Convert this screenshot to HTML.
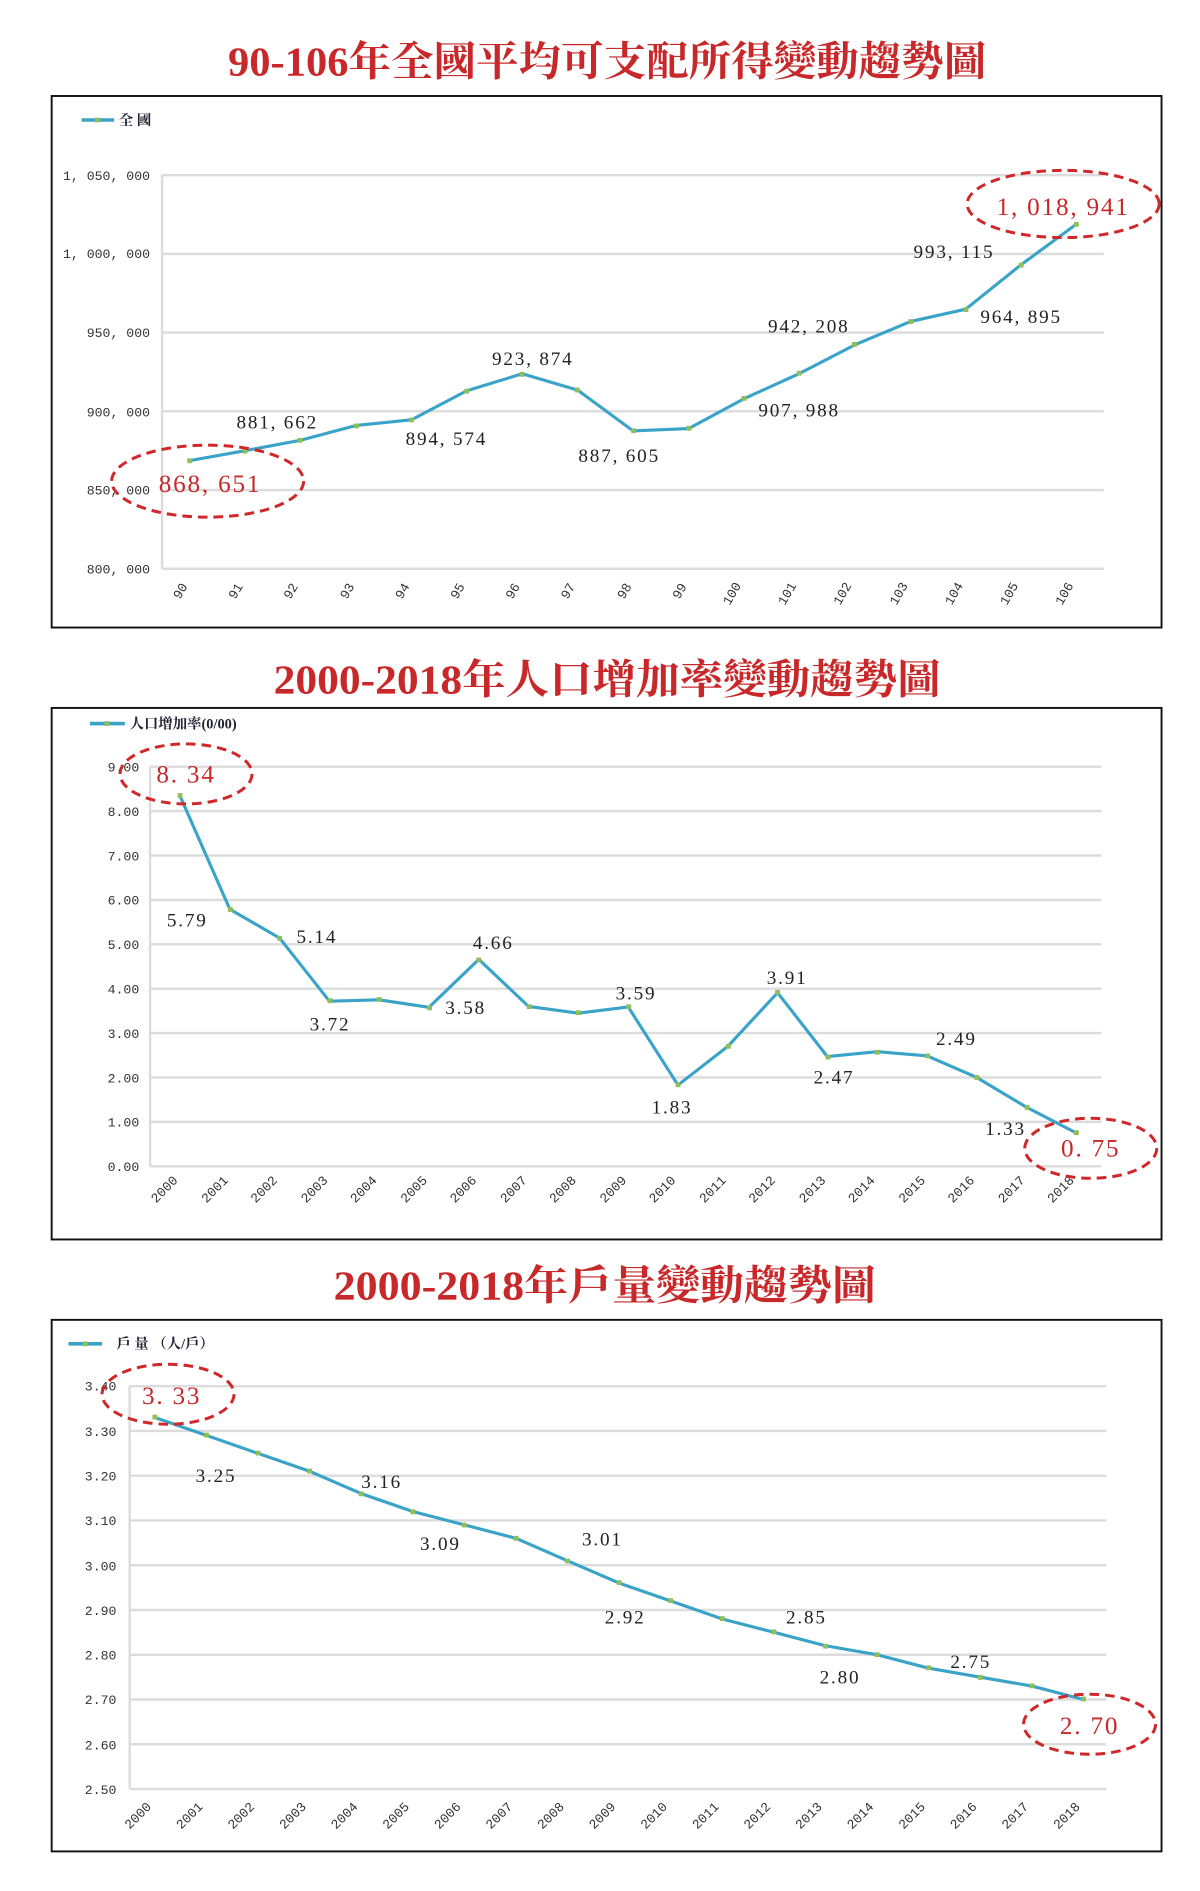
<!DOCTYPE html>
<html><head><meta charset="utf-8"><style>
html,body{margin:0;padding:0;background:#fff}
svg{display:block}
.t{font-family:"Liberation Serif","Noto Serif CJK TC",serif;font-weight:bold;fill:#c8282a;font-size:34px}
.ax{font-family:"Liberation Mono","Noto Sans CJK TC",monospace;font-size:11px;fill:#333}
.lb{font-family:"Liberation Serif",serif;font-size:16px;fill:#222;letter-spacing:1.5px}
.rd{font-family:"Liberation Serif",serif;font-size:21px;fill:#c8282a;letter-spacing:1.5px}
.lg{font-family:"Liberation Serif","Noto Serif CJK TC",serif;font-size:12px;fill:#223;font-weight:bold}
.g{stroke:#dcdcdc;stroke-width:2}
.ln{fill:none;stroke:#3aa3c8;stroke-width:2.6;stroke-linejoin:round}
.el{fill:none;stroke:#d0282a;stroke-width:2.5;stroke-dasharray:8 5}
.box{fill:none;stroke:#111;stroke-width:1.6}
</style></head><body>
<svg width="1200" height="1891" viewBox="0 0 1000 1576" xmlns="http://www.w3.org/2000/svg">
<!-- Chart 1 -->
<text class="t" x="190" y="63" textLength="632" lengthAdjust="spacingAndGlyphs">90-106年全國平均可支配所得變動趨勢圖</text>
<rect class="box" x="43" y="80" width="925" height="443"/>
<line x1="68" y1="100" x2="95" y2="100" stroke="#3aa3c8" stroke-width="3"/><rect x="79" y="98" width="4" height="4" fill="#8fbf5a"/>
<text class="lg" x="99" y="104">全 國</text>
<g class="g"><line x1="135" y1="146" x2="920" y2="146"/><line x1="135" y1="211.6" x2="920" y2="211.6"/><line x1="135" y1="277.2" x2="920" y2="277.2"/><line x1="135" y1="342.8" x2="920" y2="342.8"/><line x1="135" y1="408.4" x2="920" y2="408.4"/><line x1="135" y1="474" x2="920" y2="474"/><line x1="135" y1="146" x2="135" y2="474"/></g>
<g class="ax" text-anchor="end"><text x="125" y="150">1, 050, 000</text><text x="125" y="215">1, 000, 000</text><text x="125" y="281">950, 000</text><text x="125" y="347">900, 000</text><text x="125" y="412">850, 000</text><text x="125" y="478">800, 000</text></g>
<polyline class="ln" points="158,383.9 204.2,375.6 250.4,366.9 296.6,354.6 342.8,349.9 389,325.7 435.2,311.5 481.4,325.1 527.6,359.1 573.8,357.2 620,332.3 666.2,311.3 712.4,287.4 758.6,268 804.8,257.7 851,220.6 897.2,186.7"/>
<g fill="#8fbf5a"><rect x="156" y="382" width="4" height="4"/><rect x="202" y="374" width="4" height="4"/><rect x="248" y="365" width="4" height="4"/><rect x="295" y="353" width="4" height="4"/><rect x="341" y="348" width="4" height="4"/><rect x="387" y="324" width="4" height="4"/><rect x="433" y="310" width="4" height="4"/><rect x="479" y="323" width="4" height="4"/><rect x="526" y="357" width="4" height="4"/><rect x="572" y="355" width="4" height="4"/><rect x="618" y="330" width="4" height="4"/><rect x="664" y="309" width="4" height="4"/><rect x="710" y="285" width="4" height="4"/><rect x="757" y="266" width="4" height="4"/><rect x="803" y="256" width="4" height="4"/><rect x="849" y="219" width="4" height="4"/><rect x="895" y="185" width="4" height="4"/></g>
<g class="ax" font-size="12"><text transform="translate(150,500) rotate(-60)">90</text><text transform="translate(196,500) rotate(-60)">91</text><text transform="translate(242,500) rotate(-60)">92</text><text transform="translate(289,500) rotate(-60)">93</text><text transform="translate(335,500) rotate(-60)">94</text><text transform="translate(381,500) rotate(-60)">95</text><text transform="translate(427,500) rotate(-60)">96</text><text transform="translate(473,500) rotate(-60)">97</text><text transform="translate(520,500) rotate(-60)">98</text><text transform="translate(566,500) rotate(-60)">99</text><text transform="translate(608,505) rotate(-60)">100</text><text transform="translate(654,505) rotate(-60)">101</text><text transform="translate(700,505) rotate(-60)">102</text><text transform="translate(747,505) rotate(-60)">103</text><text transform="translate(793,505) rotate(-60)">104</text><text transform="translate(839,505) rotate(-60)">105</text><text transform="translate(885,505) rotate(-60)">106</text></g>
<g class="lb" text-anchor="middle"><text x="231" y="357">881, 662</text><text x="372" y="371">894, 574</text><text x="444" y="304">923, 874</text><text x="516" y="385">887, 605</text><text x="666" y="347">907, 988</text><text x="674" y="277">942, 208</text><text x="795" y="215">993, 115</text><text x="851" y="269">964, 895</text></g>
<ellipse class="el" cx="173" cy="401" rx="80" ry="30"/><text class="rd" x="175" y="410" text-anchor="middle">868, 651</text>
<ellipse class="el" cx="886" cy="170" rx="80" ry="28"/><text class="rd" x="886" y="179" text-anchor="middle">1, 018, 941</text>

<!-- Chart 2 -->
<text class="t" x="228" y="578" textLength="556" lengthAdjust="spacingAndGlyphs">2000-2018年人口增加率變動趨勢圖</text>
<rect class="box" x="43" y="590" width="925" height="443"/>
<line x1="75" y1="603" x2="104" y2="603" stroke="#3aa3c8" stroke-width="3"/><rect x="87" y="601" width="4" height="4" fill="#8fbf5a"/>
<text class="lg" x="108" y="607">人口增加率(0/00)</text>
<g class="g"><line x1="125" y1="639" x2="918" y2="639"/><line x1="125" y1="676" x2="918" y2="676"/><line x1="125" y1="713" x2="918" y2="713"/><line x1="125" y1="750" x2="918" y2="750"/><line x1="125" y1="787" x2="918" y2="787"/><line x1="125" y1="824" x2="918" y2="824"/><line x1="125" y1="861" x2="918" y2="861"/><line x1="125" y1="898" x2="918" y2="898"/><line x1="125" y1="935" x2="918" y2="935"/><line x1="125" y1="972" x2="918" y2="972"/><line x1="125" y1="639" x2="125" y2="972"/></g>
<g class="ax" text-anchor="end"><text x="116" y="643">9.00</text><text x="116" y="680">8.00</text><text x="116" y="717">7.00</text><text x="116" y="754">6.00</text><text x="116" y="791">5.00</text><text x="116" y="828">4.00</text><text x="116" y="865">3.00</text><text x="116" y="902">2.00</text><text x="116" y="939">1.00</text><text x="116" y="976">0.00</text></g>
<polyline class="ln" points="150,663.4 191.5,757.8 233,781.8 274.5,834.4 316,833.3 357.5,839.5 399,799.6 440.5,838.8 482,844.4 523.5,839.2 565,904.3 606.5,872.1 648,827.3 689.5,880.6 731,876.5 772.5,879.9 814,898 855.5,922.8 897,944.3"/>
<g fill="#8fbf5a"><rect x="148" y="661" width="4" height="4"/><rect x="190" y="756" width="4" height="4"/><rect x="231" y="780" width="4" height="4"/><rect x="273" y="832" width="4" height="4"/><rect x="314" y="831" width="4" height="4"/><rect x="356" y="838" width="4" height="4"/><rect x="397" y="798" width="4" height="4"/><rect x="439" y="837" width="4" height="4"/><rect x="480" y="842" width="4" height="4"/><rect x="522" y="837" width="4" height="4"/><rect x="563" y="902" width="4" height="4"/><rect x="605" y="870" width="4" height="4"/><rect x="646" y="825" width="4" height="4"/><rect x="688" y="879" width="4" height="4"/><rect x="729" y="875" width="4" height="4"/><rect x="771" y="878" width="4" height="4"/><rect x="812" y="896" width="4" height="4"/><rect x="854" y="921" width="4" height="4"/><rect x="895" y="942" width="4" height="4"/></g>
<g class="ax" font-size="10"><text transform="translate(130,1003) rotate(-45)">2000</text><text transform="translate(172,1003) rotate(-45)">2001</text><text transform="translate(213,1003) rotate(-45)">2002</text><text transform="translate(255,1003) rotate(-45)">2003</text><text transform="translate(296,1003) rotate(-45)">2004</text><text transform="translate(338,1003) rotate(-45)">2005</text><text transform="translate(379,1003) rotate(-45)">2006</text><text transform="translate(421,1003) rotate(-45)">2007</text><text transform="translate(462,1003) rotate(-45)">2008</text><text transform="translate(504,1003) rotate(-45)">2009</text><text transform="translate(545,1003) rotate(-45)">2010</text><text transform="translate(587,1003) rotate(-45)">2011</text><text transform="translate(628,1003) rotate(-45)">2012</text><text transform="translate(670,1003) rotate(-45)">2013</text><text transform="translate(711,1003) rotate(-45)">2014</text><text transform="translate(753,1003) rotate(-45)">2015</text><text transform="translate(794,1003) rotate(-45)">2016</text><text transform="translate(836,1003) rotate(-45)">2017</text><text transform="translate(877,1003) rotate(-45)">2018</text></g>
<g class="lb" text-anchor="middle"><text x="156" y="772">5.79</text><text x="264" y="786">5.14</text><text x="275" y="859">3.72</text><text x="388" y="845">3.58</text><text x="411" y="791">4.66</text><text x="530" y="833">3.59</text><text x="560" y="928">1.83</text><text x="656" y="820">3.91</text><text x="695" y="903">2.47</text><text x="797" y="871">2.49</text><text x="838" y="946">1.33</text></g>
<ellipse class="el" cx="155" cy="645" rx="55" ry="25" fill="#fff"/><text class="rd" x="155" y="652" text-anchor="middle">8. 34</text>
<ellipse class="el" cx="909" cy="957" rx="55" ry="25"/><text class="rd" x="909" y="964" text-anchor="middle">0. 75</text>

<!-- Chart 3 -->
<text class="t" x="278" y="1083" textLength="452" lengthAdjust="spacingAndGlyphs">2000-2018年戶量變動趨勢圖</text>
<rect class="box" x="43" y="1100" width="925" height="443"/>
<line x1="57" y1="1120" x2="85" y2="1120" stroke="#3aa3c8" stroke-width="3"/><rect x="69" y="1118" width="4" height="4" fill="#8fbf5a"/>
<text class="lg" x="97" y="1124">戶 量 （人/戶）</text>
<g class="g"><line x1="108" y1="1155.3" x2="922" y2="1155.3"/><line x1="108" y1="1192.6" x2="922" y2="1192.6"/><line x1="108" y1="1229.9" x2="922" y2="1229.9"/><line x1="108" y1="1267.2" x2="922" y2="1267.2"/><line x1="108" y1="1304.5" x2="922" y2="1304.5"/><line x1="108" y1="1341.8" x2="922" y2="1341.8"/><line x1="108" y1="1379.1" x2="922" y2="1379.1"/><line x1="108" y1="1416.4" x2="922" y2="1416.4"/><line x1="108" y1="1453.7" x2="922" y2="1453.7"/><line x1="108" y1="1491" x2="922" y2="1491"/><line x1="108" y1="1155" x2="108" y2="1491"/></g>
<g class="ax" text-anchor="end"><text x="97" y="1159">3.40</text><text x="97" y="1197">3.30</text><text x="97" y="1234">3.20</text><text x="97" y="1271">3.10</text><text x="97" y="1309">3.00</text><text x="97" y="1346">2.90</text><text x="97" y="1383">2.80</text><text x="97" y="1420">2.70</text><text x="97" y="1458">2.60</text><text x="97" y="1495">2.50</text></g>
<polyline class="ln" points="129,1181.4 172,1196.3 215,1211.3 258,1226.2 301,1244.8 344,1259.7 387,1270.9 430,1282.1 473,1300.8 516,1319.4 559,1334.3 602,1349.3 645,1360.4 688,1371.6 731,1379.1 774,1390.3 817,1397.8 860,1405.2 903,1416.4"/>
<g fill="#8fbf5a"><rect x="127" y="1179" width="4" height="4"/><rect x="170" y="1194" width="4" height="4"/><rect x="213" y="1209" width="4" height="4"/><rect x="256" y="1224" width="4" height="4"/><rect x="299" y="1243" width="4" height="4"/><rect x="342" y="1258" width="4" height="4"/><rect x="385" y="1269" width="4" height="4"/><rect x="428" y="1280" width="4" height="4"/><rect x="471" y="1299" width="4" height="4"/><rect x="514" y="1317" width="4" height="4"/><rect x="557" y="1332" width="4" height="4"/><rect x="600" y="1347" width="4" height="4"/><rect x="643" y="1358" width="4" height="4"/><rect x="686" y="1370" width="4" height="4"/><rect x="729" y="1377" width="4" height="4"/><rect x="772" y="1388" width="4" height="4"/><rect x="815" y="1396" width="4" height="4"/><rect x="858" y="1403" width="4" height="4"/><rect x="901" y="1414" width="4" height="4"/></g>
<g class="ax" font-size="10"><text transform="translate(108,1525) rotate(-45)">2000</text><text transform="translate(151,1525) rotate(-45)">2001</text><text transform="translate(194,1525) rotate(-45)">2002</text><text transform="translate(237,1525) rotate(-45)">2003</text><text transform="translate(280,1525) rotate(-45)">2004</text><text transform="translate(323,1525) rotate(-45)">2005</text><text transform="translate(366,1525) rotate(-45)">2006</text><text transform="translate(409,1525) rotate(-45)">2007</text><text transform="translate(452,1525) rotate(-45)">2008</text><text transform="translate(495,1525) rotate(-45)">2009</text><text transform="translate(538,1525) rotate(-45)">2010</text><text transform="translate(581,1525) rotate(-45)">2011</text><text transform="translate(624,1525) rotate(-45)">2012</text><text transform="translate(667,1525) rotate(-45)">2013</text><text transform="translate(710,1525) rotate(-45)">2014</text><text transform="translate(753,1525) rotate(-45)">2015</text><text transform="translate(796,1525) rotate(-45)">2016</text><text transform="translate(839,1525) rotate(-45)">2017</text><text transform="translate(882,1525) rotate(-45)">2018</text></g>
<g class="lb" text-anchor="middle"><text x="180" y="1235">3.25</text><text x="318" y="1240">3.16</text><text x="367" y="1292">3.09</text><text x="502" y="1288">3.01</text><text x="521" y="1353">2.92</text><text x="672" y="1353">2.85</text><text x="700" y="1403">2.80</text><text x="809" y="1390">2.75</text></g>
<ellipse class="el" cx="140" cy="1162" rx="55" ry="25" fill="#fff"/><text class="rd" x="143" y="1170" text-anchor="middle">3. 33</text>
<ellipse class="el" cx="908" cy="1437" rx="55" ry="25"/><text class="rd" x="908" y="1445" text-anchor="middle">2. 70</text>
</svg>
</body></html>
